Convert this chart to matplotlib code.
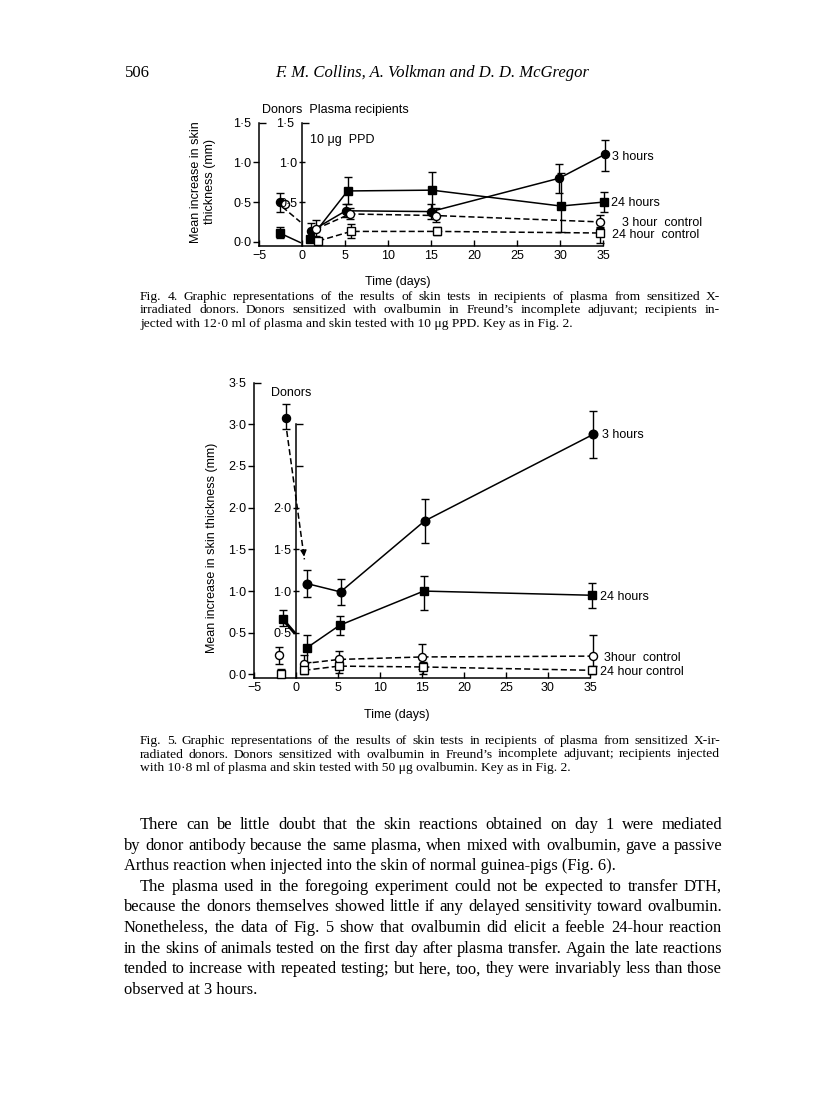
import numpy as np
import matplotlib
matplotlib.use('Agg')
import matplotlib.pyplot as plt

W, H  = 816, 1096
sans  = 'Liberation Sans'
serif = 'Liberation Serif'
tick_size = 9

# ---- Fig. 4 data (10 ug PPD) ----
x_ticks        = [-5, 0, 5, 10, 15, 20, 25, 30, 35]
f4_outer_ticks = [0.0, 0.5, 1.0, 1.5]
f4_inner_ticks = [0.5, 1.0]

f4_donor_3h    = dict(x=[-2.6], y=[0.50], lo=[0.38], hi=[0.62])
f4_donor_3hc   = dict(x=[-2.0], y=[0.48], lo=[0.48], hi=[0.48])
f4_donor_24h   = dict(x=[-2.6], y=[0.11], lo=[0.05], hi=[0.19])

f4_3h_x   = [1.0, 5.1, 15.0, 29.9, 35.2]
f4_3h_y   = [0.13, 0.39, 0.38, 0.80, 1.10]
f4_3h_lo  = [0.03, 0.31, 0.29, 0.62, 0.89]
f4_3h_hi  = [0.23, 0.47, 0.48, 0.98, 1.28]

f4_24h_x  = [0.9, 5.3, 15.1, 30.1, 35.1]
f4_24h_y  = [0.03, 0.64, 0.65, 0.45, 0.50]
f4_24h_lo = [0.03, 0.47, 0.40, 0.12, 0.37]
f4_24h_hi = [0.03, 0.81, 0.88, 0.86, 0.63]

f4_3hc_x  = [1.6, 5.6, 15.6, 34.6]
f4_3hc_y  = [0.16, 0.35, 0.33, 0.25]
f4_3hc_lo = [0.07, 0.29, 0.25, 0.17]
f4_3hc_hi = [0.27, 0.42, 0.43, 0.34]

f4_24hc_x  = [1.9, 5.7, 15.7, 34.6]
f4_24hc_y  = [0.01, 0.13, 0.13, 0.11]
f4_24hc_lo = [0.01, 0.05, 0.09, -0.02]
f4_24hc_hi = [0.01, 0.22, 0.18, 0.19]

# donor -> recipient connectors
f4_link_3h_x  = [-2.3, -0.2]
f4_link_3h_y  = [0.44, 0.25]
f4_link_24h_x = [-2.2, -0.2]
f4_link_24h_y = [0.09, -0.01]

# ---- Fig. 5 data (50 ug ovalbumin) ----
f5_outer_ticks = [0.0, 0.5, 1.0, 1.5, 2.0, 2.5, 3.0, 3.5]
f5_inner_ticks = [0.5, 1.0, 1.5, 2.0]
f5_inner_extra = [2.5, 3.0]

f5_donor_3h   = dict(x=[-1.2], y=[3.08], lo=[2.94], hi=[3.24])
f5_donor_24h  = dict(x=[-1.6], y=[0.67], lo=[0.58], hi=[0.77])
f5_donor_3hc  = dict(x=[-2.0], y=[0.23], lo=[0.13], hi=[0.33])
f5_donor_24hc = dict(x=[-1.8], y=[0.00], lo=[0.00], hi=[0.07])

f5_3h_x   = [1.3, 5.3, 15.3, 35.4]
f5_3h_y   = [1.09, 0.99, 1.84, 2.88]
f5_3h_lo  = [0.93, 0.83, 1.58, 2.60]
f5_3h_hi  = [1.25, 1.15, 2.11, 3.16]

f5_24h_x  = [1.3, 5.2, 15.2, 35.2]
f5_24h_y  = [0.32, 0.59, 1.00, 0.95]
f5_24h_lo = [0.15, 0.47, 0.77, 0.80]
f5_24h_hi = [0.47, 0.70, 1.18, 1.10]

f5_3hc_x  = [0.9, 5.1, 15.0, 35.3]
f5_3hc_y  = [0.13, 0.18, 0.21, 0.22]
f5_3hc_lo = [0.02, 0.08, 0.07, 0.10]
f5_3hc_hi = [0.23, 0.28, 0.36, 0.47]

f5_24hc_x  = [1.0, 5.1, 15.1, 35.2]
f5_24hc_y  = [0.05, 0.10, 0.09, 0.05]
f5_24hc_lo = [0.00, 0.02, 0.00, 0.00]
f5_24hc_hi = [0.10, 0.16, 0.15, 0.06]

f5_link_3h_x  = [-1.1, 1.0]
f5_link_3h_y  = [2.92, 1.38]
f5_link_24h_x = [-1.3, -0.1]
f5_link_24h_y = [0.63, 0.49]

# ---- page text ----
header_page  = '506'
header_title = 'F. M. Collins, A. Volkman and D. D. McGregor'

cap4 = ['Fig. 4. Graphic representations of the results of skin tests in recipients of plasma from sensitized X-',
        'irradiated donors. Donors sensitized with ovalbumin in Freund\u2019s incomplete adjuvant; recipients in-',
        'jected with 12\u00b70 ml of \u03c1lasma and skin tested with 10 \u03bcg PPD. Key as in Fig. 2.']
cap5 = ['Fig. 5. Graphic representations of the results of skin tests in recipients of plasma from sensitized X-ir-',
        'radiated donors. Donors sensitized with ovalbumin in Freund\u2019s incomplete adjuvant; recipients injected',
        'with 10\u00b78 ml of plasma and skin tested with 50 \u03bcg ovalbumin. Key as in Fig. 2.']
body = [('There can be little doubt that the skin reactions obtained on day 1 were mediated', True, True),
        ('by donor antibody because the same plasma, when mixed with ovalbumin, gave a passive', False, True),
        ('Arthus reaction when injected into the skin of normal guinea-pigs (Fig. 6).', False, False),
        ('The plasma used in the foregoing experiment could not be expected to transfer DTH,', True, True),
        ('because the donors themselves showed little if any delayed sensitivity toward ovalbumin.', False, True),
        ('Nonetheless, the data of Fig. 5 show that ovalbumin did elicit a feeble 24-hour reaction', False, True),
        ('in the skins of animals tested on the first day after plasma transfer. Again the late reactions', False, True),
        ('tended to increase with repeated testing; but here, too, they were invariably less than those', False, True),
        ('observed at 3 hours.', False, False)]


def dot(v):
    return ('%.1f' % v).replace('.', '\u00b7')


def rect(x0, x1, y_top, y_bot):
    return [x0 / W, 1 - y_bot / H, (x1 - x0) / W, (y_bot - y_top) / H]


def put_line(fig, text, x0, y, size, x1=None, style='normal'):
    """Place one printed line at baseline y (pixels); stretch word gaps when x1 is given."""
    if x1 is None:
        fig.text(x0 / W, 1 - y / H, text, fontsize=size, family=serif, style=style, va='baseline')
        return
    words = text.split()
    items = [fig.text(0, 1 - y / H, w, fontsize=size, family=serif, va='baseline') for w in words]
    r = fig.canvas.get_renderer()
    widths = [t.get_window_extent(r).width for t in items]
    gap = (x1 - x0 - sum(widths)) / (len(words) - 1)
    x = x0
    for t, w in zip(items, widths):
        t.set_x(x / W)
        x += w + gap


def series(ax, x, y, lo, hi, marker, filled, ls, ms):
    y = np.array(y); lo = np.array(lo); hi = np.array(hi)
    ax.errorbar(x, y, yerr=[y - lo, hi - y], fmt='none', ecolor='k',
                elinewidth=1.0, capsize=3, capthick=1.0, zorder=2, clip_on=False)
    ax.plot(x, y, color='k', lw=1.1, ls=ls, dashes=(4, 2) if ls == '--' else (None, None),
            marker=marker, ms=ms, mfc='k' if filled else 'white', mec='k', mew=1.0,
            zorder=3, clip_on=False)


def sans_labels(labels):
    for lab in labels:
        lab.set_family(sans)


def setup_axes(fig, r, xlim, ylim, outer_ticks, outer_top, inner_ticks, inner_top, inner_extra, inner_label_top):
    ax = fig.add_axes(r)
    ax.set_xlim(*xlim); ax.set_ylim(*ylim)
    for s in ['top', 'right']:
        ax.spines[s].set_visible(False)
    ax.spines['left'].set_bounds(ylim[0], outer_top)
    ax.spines['bottom'].set_bounds(xlim[0], 35)
    for s in ['left', 'bottom']:
        ax.spines[s].set_linewidth(1.1)
    ax.set_xticks(x_ticks, [('\u2212%d' % -v) if v < 0 else str(v) for v in x_ticks])
    ax.tick_params(axis='x', direction='in', length=4, width=1, pad=3, labelsize=tick_size)
    major = [v for v in outer_ticks if v != outer_top]
    ax.set_yticks(major, [dot(v) for v in major])
    ax.set_yticks([outer_top], [dot(outer_top)], minor=True)
    ax.tick_params(axis='y', which='major', direction='out', length=4, width=1, pad=1.5, labelsize=tick_size)
    ax.tick_params(axis='y', which='minor', direction='in', length=5, width=1, pad=5.5, labelsize=tick_size)
    sans_labels(ax.get_xticklabels() + ax.get_yticklabels() + ax.get_yticklabels(minor=True))

    # second (recipient) axis at day 0
    ai = fig.add_axes(r)
    ai.set_xlim(*xlim); ai.set_ylim(*ylim)
    ai.patch.set_visible(False)
    for s in ['top', 'right', 'bottom']:
        ai.spines[s].set_visible(False)
    ai.spines['left'].set_position(('data', 0))
    ai.spines['left'].set_bounds(ylim[0], inner_top)
    ai.spines['left'].set_linewidth(1.1)
    ai.xaxis.set_visible(False)
    ai.set_yticks(inner_ticks, [dot(v) for v in inner_ticks])
    ai.set_yticks(inner_extra, [dot(v) if inner_label_top else '' for v in inner_extra], minor=True)
    ai.tick_params(axis='y', which='major', direction='inout', length=5, width=1, pad=1, labelsize=tick_size)
    ai.tick_params(axis='y', which='minor', direction='in', length=5, width=1, pad=6, labelsize=tick_size)
    sans_labels(ai.get_yticklabels() + ai.get_yticklabels(minor=True))
    return ax, ai


fig = plt.figure(figsize=(W / 100, H / 100), dpi=100)

# header
fig.text(125 / W, 1 - 77 / H, header_page, fontsize=12, family=serif, va='baseline')
fig.text(432 / W, 1 - 77 / H, header_title, fontsize=12, family=serif, style='italic',
         va='baseline', ha='center')

# ---- Fig. 4 ----
ax4, ai4 = setup_axes(fig, rect(259, 603, 122.7, 246.1), (-5, 35), (-0.055, 1.5),
                      f4_outer_ticks, 1.5, f4_inner_ticks, 1.5, [1.5], True)

ax4.plot(f4_link_3h_x, f4_link_3h_y, color='k', lw=1.1, dashes=(4, 2), clip_on=False)
ax4.plot(f4_link_24h_x, f4_link_24h_y, color='k', lw=1.1, clip_on=False)
for d, m, f in [(f4_donor_3h, 'o', True), (f4_donor_3hc, 'o', False), (f4_donor_24h, 's', True)]:
    series(ax4, d['x'], d['y'], d['lo'], d['hi'], m, f, '-', 5.8)
series(ax4, f4_3h_x, f4_3h_y, f4_3h_lo, f4_3h_hi, 'o', True, '-', 5.8)
series(ax4, f4_24h_x, f4_24h_y, f4_24h_lo, f4_24h_hi, 's', True, '-', 5.5)
series(ax4, f4_3hc_x, f4_3hc_y, f4_3hc_lo, f4_3hc_hi, 'o', False, '--', 5.8)
series(ax4, f4_24hc_x, f4_24hc_y, f4_24hc_lo, f4_24hc_hi, 's', False, '--', 5.5)

lab = dict(fontsize=9, family=sans, va='center')
fig.text(262 / W, 1 - 110 / H, 'Donors  Plasma recipients', **lab)
fig.text(310 / W, 1 - 140 / H, '10 \u03bcg  PPD', **lab)
fig.text(612 / W, 1 - 157 / H, '3 hours', **lab)
fig.text(611 / W, 1 - 203 / H, '24 hours', **lab)
fig.text(622 / W, 1 - 222.5 / H, '3 hour  control', **lab)
fig.text(612 / W, 1 - 235.5 / H, '24 hour  control', **lab)
fig.text(203 / W, 1 - 182 / H, 'Mean increase in skin\nthickness (mm)', fontsize=9, family=sans,
         rotation=90, ha='center', va='center', linespacing=1.3, multialignment='center')
fig.text(398 / W, 1 - 282 / H, 'Time (days)', fontsize=9, family=sans, ha='center', va='center')

for i, line in enumerate(cap4):
    put_line(fig, line, 140, 300 + 13.5 * i, 9.7, 720 if i < 2 else None)

# ---- Fig. 5 ----
ax5, ai5 = setup_axes(fig, rect(254, 592.5, 382.6, 678.3), (-5, 35.3), (-0.046, 3.5),
                      f5_outer_ticks, 3.5, f5_inner_ticks, 3.0, f5_inner_extra, False)

ax5.plot(f5_link_3h_x, f5_link_3h_y, color='k', lw=1.1, dashes=(4, 2), clip_on=False)
ax5.annotate('', xy=(f5_link_3h_x[1], f5_link_3h_y[1]),
             xytext=(f5_link_3h_x[1] - 0.15, f5_link_3h_y[1] + 0.15),
             arrowprops=dict(arrowstyle='-|>', color='k', lw=1, mutation_scale=9))
ax5.plot(f5_link_24h_x, f5_link_24h_y, color='k', lw=2.2, solid_capstyle='butt', clip_on=False)
for d, m, f in [(f5_donor_3h, 'o', True), (f5_donor_24h, 's', True),
                (f5_donor_3hc, 'o', False), (f5_donor_24hc, 's', False)]:
    series(ax5, d['x'], d['y'], d['lo'], d['hi'], m, f, '-', 5.8)
series(ax5, f5_3h_x, f5_3h_y, f5_3h_lo, f5_3h_hi, 'o', True, '-', 6.2)
series(ax5, f5_24h_x, f5_24h_y, f5_24h_lo, f5_24h_hi, 's', True, '-', 5.5)
series(ax5, f5_3hc_x, f5_3hc_y, f5_3hc_lo, f5_3hc_hi, 'o', False, '--', 5.8)
series(ax5, f5_24hc_x, f5_24hc_y, f5_24hc_lo, f5_24hc_hi, 's', False, '--', 5.5)

fig.text(271 / W, 1 - 393 / H, 'Donors', **lab)
fig.text(602 / W, 1 - 435 / H, '3 hours', **lab)
fig.text(600 / W, 1 - 597 / H, '24 hours', **lab)
fig.text(604 / W, 1 - 658 / H, '3hour  control', **lab)
fig.text(600 / W, 1 - 672 / H, '24 hour control', **lab)
fig.text(212 / W, 1 - 548 / H, 'Mean increase in skin thickness (mm)', fontsize=9, family=sans,
         rotation=90, ha='center', va='center')
fig.text(397 / W, 1 - 715 / H, 'Time (days)', fontsize=9, family=sans, ha='center', va='center')

for i, line in enumerate(cap5):
    put_line(fig, line, 140, 744 + 13.5 * i, 9.7, 720 if i < 2 else None)

# ---- body text ----
for i, (line, indent, just) in enumerate(body):
    x0 = 140 if indent else 124
    put_line(fig, line, x0, 829 + 20.6 * i, 11.9, 722 if just else None)

fig.savefig('out.png', dpi=100)
